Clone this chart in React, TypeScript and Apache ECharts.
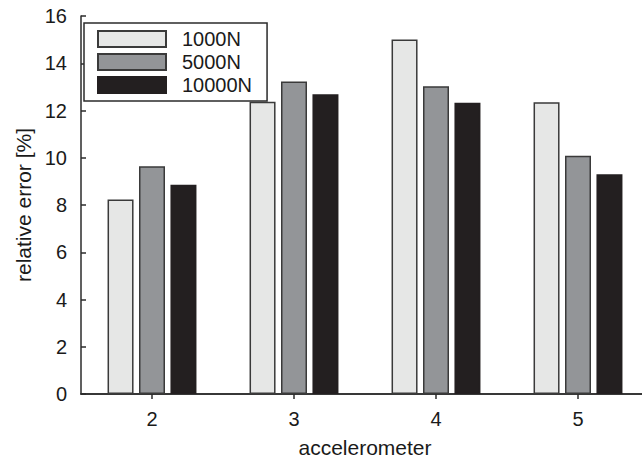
import React, { useEffect, useRef } from "react";
import * as echarts from "echarts";

const categories = ["2", "3", "4", "5"];
const seriesNames = ["1000N", "5000N", "10000N"];
const values1000N = [8.23, 12.37, 15.01, 12.35];
const values5000N = [9.64, 13.23, 13.03, 10.08];
const values10000N = [8.86, 12.69, 12.33, 9.3];
const yTicks = { min: 0, max: 16, interval: 2 };

const FONT = "'Liberation Sans', Arial, sans-serif";
const INK = "#2b2b2b";
const fills = ["#e6e7e6", "#939598", "#231f20"];

export default function App() {
  const ref = useRef<HTMLDivElement>(null);

  useEffect(() => {
    if (!ref.current) return;
    const chart = echarts.init(ref.current, undefined, { renderer: "svg" });
    const data = [values1000N, values5000N, values10000N];

    const axisLine = { show: true, lineStyle: { color: INK, width: 1.5 } };
    const tick = { show: true, inside: true, length: 5, lineStyle: { color: INK, width: 1.5 } };

    chart.setOption({
      animation: false,
      backgroundColor: "#ffffff",
      textStyle: { fontFamily: FONT },
      // the plot box runs a little past the right edge of the canvas
      grid: { left: 81, top: 16, width: 568, height: 378, outerBoundsMode: "none", containLabel: false },
      legend: {
        orient: "vertical",
        left: 84,
        top: 23,
        padding: [6, 15, 6, 13],
        icon: "rect",
        itemWidth: 68,
        itemHeight: 16,
        itemGap: 3,
        borderColor: INK,
        borderWidth: 1.5,
        backgroundColor: "#ffffff",
        data: seriesNames,
        textStyle: {
          fontFamily: FONT,
          fontSize: 20,
          color: "#1a1a1a",
          lineHeight: 16,
          padding: [0, 0, 0, 11],
        },
      },
      xAxis: [
        {
          type: "category",
          data: categories,
          position: "bottom",
          name: "accelerometer",
          nameLocation: "middle",
          nameGap: 43,
          nameTextStyle: { fontFamily: FONT, fontSize: 21, color: "#1a1a1a" },
          axisLine,
          axisTick: { ...tick, alignWithLabel: true },
          axisLabel: { fontFamily: FONT, fontSize: 20, color: "#1a1a1a", margin: 15 },
          splitLine: { show: false },
        },
        {
          type: "category",
          data: categories,
          position: "top",
          axisLine,
          axisTick: { ...tick, alignWithLabel: true },
          axisLabel: { show: false },
          splitLine: { show: false },
        },
      ],
      yAxis: [
        {
          type: "value",
          min: yTicks.min,
          max: yTicks.max,
          interval: yTicks.interval,
          position: "left",
          name: "relative error [%]",
          nameLocation: "middle",
          nameGap: 46,
          nameTextStyle: { fontFamily: FONT, fontSize: 21, color: "#1a1a1a" },
          axisLine,
          axisTick: tick,
          axisLabel: { fontFamily: FONT, fontSize: 20, color: "#1a1a1a", margin: 14 },
          splitLine: { show: false },
        },
        {
          type: "value",
          min: yTicks.min,
          max: yTicks.max,
          interval: yTicks.interval,
          position: "right",
          axisLine,
          axisTick: tick,
          axisLabel: { show: false },
          splitLine: { show: false },
        },
      ],
      series: seriesNames.map((name, i) => ({
        name,
        type: "bar",
        data: data[i],
        barWidth: 26,
        barGap: "21%",
        barCategoryGap: "37%",
        itemStyle: {
          color: fills[i],
          borderColor: i === 2 ? fills[2] : "#3a3a3a",
          borderWidth: 1.5,
        },
      })),
    });

    return () => chart.dispose();
  }, []);

  return <div ref={ref} style={{ width: 642, height: 459, position: "absolute", left: 0, top: 0 }} />;
}
